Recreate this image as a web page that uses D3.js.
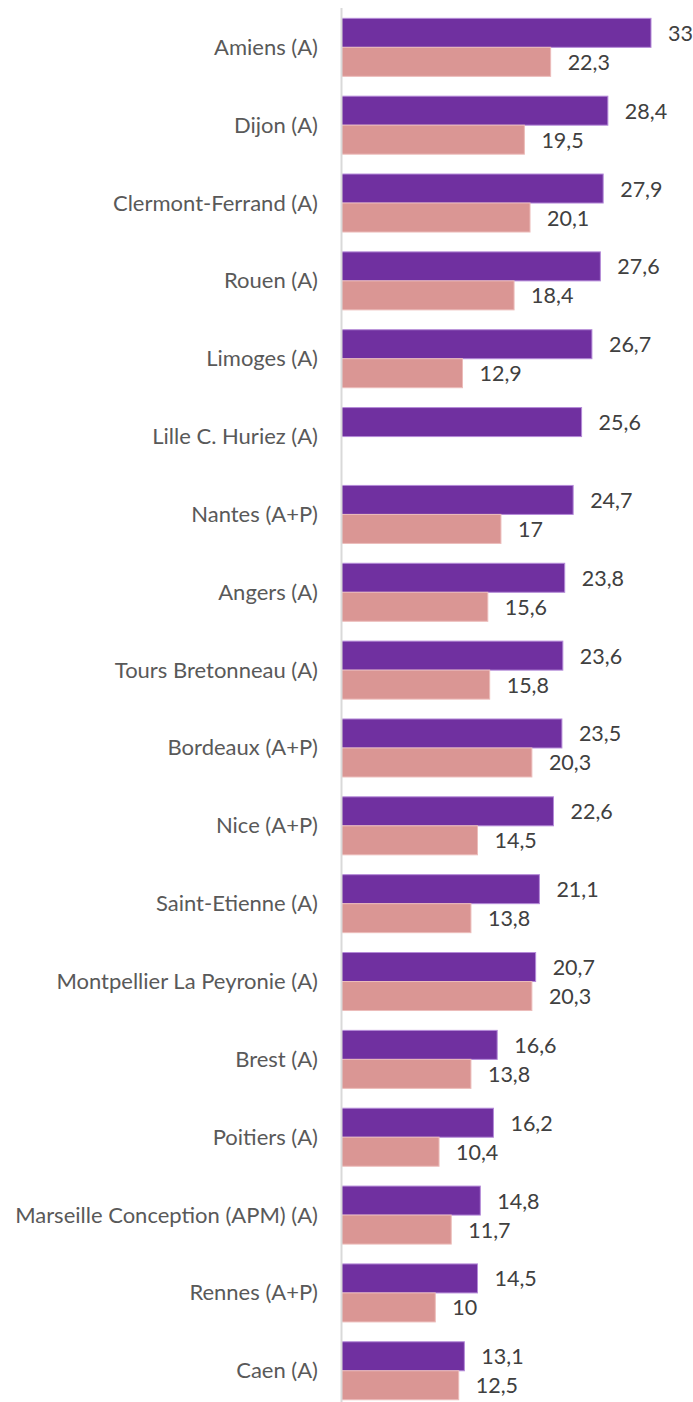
<!DOCTYPE html>
<html>
<head>
<meta charset="utf-8">
<script src="https://cdn.jsdelivr.net/npm/d3@7"></script>
<style>
  html, body { margin: 0; padding: 0; background: #fff; }
  svg { display: block; }
  .cat { font-family: Lato, "Open Sans", sans-serif; font-size: 22px; fill: #595959; }
  .val { font-family: Lato, "Open Sans", sans-serif; font-size: 21.5px; fill: #404040; }
</style>
</head>
<body>
<div id="chart"></div>
<script>
// categories top to bottom
var categories = [
  "Amiens (A)", "Dijon (A)", "Clermont-Ferrand (A)", "Rouen (A)", "Limoges (A)",
  "Lille C. Huriez (A)", "Nantes (A+P)", "Angers (A)", "Tours Bretonneau (A)",
  "Bordeaux (A+P)", "Nice (A+P)", "Saint-Etienne (A)", "Montpellier La Peyronie (A)",
  "Brest (A)", "Poitiers (A)", "Marseille Conception (APM) (A)", "Rennes (A+P)", "Caen (A)"
];
var seriesA = [33, 28.4, 27.9, 27.6, 26.7, 25.6, 24.7, 23.8, 23.6, 23.5, 22.6, 21.1, 20.7, 16.6, 16.2, 14.8, 14.5, 13.1];
var seriesB = [22.3, 19.5, 20.1, 18.4, 12.9, null, 17, 15.6, 15.8, 20.3, 14.5, 13.8, 20.3, 13.8, 10.4, 11.7, 10, 12.5];
var seriesKeys = ["a", "b"];
var seriesColors = {a: "#7030a0", b: "#da9694"};
var seriesStroke = {a: "#b48ad8", b: "#ecbcba"};

var width = 693, height = 1402;
var axisX = 341.5;

var svg = d3.select("#chart").append("svg")
    .attr("width", width)
    .attr("height", height);

var rows = categories.map(function(c, i) {
    return {cat: c, a: seriesA[i], b: seriesB[i]};
});

var x = d3.scaleLinear().domain([0, 33]).range([axisX, 651]);

var y = d3.scaleBand()
    .domain(categories)
    .range([8.4, 8.4 + 18 * 77.85])
    .paddingInner(0.255)
    .paddingOuter(0.1275);

var y1 = d3.scaleBand()
    .domain(seriesKeys)
    .range([0, y.bandwidth()]);

function fmt(v) { return String(v).replace(".", ","); }

var group = svg.selectAll("g.row")
    .data(rows)
    .enter().append("g")
    .attr("class", "row")
    .attr("transform", function(d) { return "translate(0," + y(d.cat) + ")"; });

var bars = group.selectAll("g.bar")
    .data(function(d) {
        return seriesKeys.filter(function(k) { return d[k] != null; })
            .map(function(k) { return {key: k, value: d[k]}; });
    })
    .enter().append("g")
    .attr("class", "bar");

bars.append("rect")
    .attr("x", x(0))
    .attr("y", function(d) { return y1(d.key); })
    .attr("width", function(d) { return x(d.value) - x(0); })
    .attr("height", y1.bandwidth())
    .style("fill", function(d) { return seriesColors[d.key]; })
    .style("stroke", function(d) { return seriesStroke[d.key]; })
    .style("stroke-width", 1);

bars.append("text")
    .attr("class", "val")
    .attr("x", function(d) { return x(d.value) + 17; })
    .attr("y", function(d) { return y1(d.key) + y1.bandwidth() / 2; })
    .attr("dominant-baseline", "central")
    .text(function(d) { return fmt(d.value); });

// category labels
group.append("text")
    .attr("class", "cat")
    .attr("x", 318)
    .attr("y", y.bandwidth() / 2 - 1)
    .attr("text-anchor", "end")
    .attr("dominant-baseline", "central")
    .text(function(d) { return d.cat; });

// vertical axis line
svg.append("line")
    .attr("x1", axisX).attr("x2", axisX)
    .attr("y1", 8).attr("y2", height)
    .style("stroke", "#d9d9d9")
    .style("stroke-width", 2);
</script>
</body>
</html>
